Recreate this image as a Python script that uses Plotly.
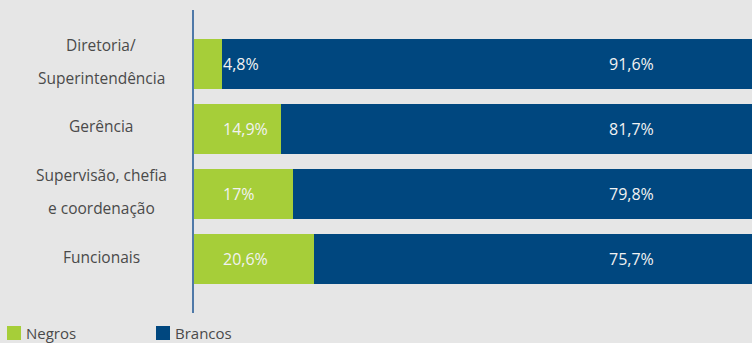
import plotly.graph_objects as go

# ---- data ----
category_lines = [
    ["Diretoria/", "Superintendência"],
    ["Gerência"],
    ["Supervisão, chefia", "e coordenação"],
    ["Funcionais"],
]
categories = [" ".join(l) for l in category_lines]
negros = [4.8, 14.9, 17.0, 20.6]
brancos = [91.6, 81.7, 79.8, 75.7]
series_names = ["Negros", "Brancos"]

GREEN = "#a6ce39"
BLUE = "#00477f"
BG = "#e6e6e6"
GRAY = "#4a4a4a"
FONT = "Open Sans"

L, T, B, W, H = 194, 10, 30, 752, 343
PW, PH = W - L, H - T - B


def fmt(v):
    return f"{v:g}".replace(".", ",") + "%"


def px_x(px):
    return (px - L) / PW


def px_y(py):
    return (H - B - py) / PH


fig = go.Figure()
colors = [GREEN, BLUE]
for name, vals, col in zip(series_names, [negros, brancos], colors):
    fig.add_trace(go.Bar(y=categories, x=vals, orientation="h", name=name,
                         marker=dict(color=col, line=dict(width=0)), hoverinfo="skip",
                         showlegend=False))

ann = []
for cat, lines, n, b in zip(categories, category_lines, negros, brancos):
    k = len(lines)
    for i, line in enumerate(lines):
        shift = 2.5 + (k - 1) * 16.5 - i * 33
        ann.append(dict(x=px_x(101), xref="paper", y=cat, yref="y", text=line,
                        showarrow=False, xanchor="center", yanchor="middle", yshift=shift,
                        font=dict(family=FONT, size=15.5, color=GRAY)))
    ann.append(dict(x=px_x(221), xref="paper", y=cat, yref="y", text=fmt(n), showarrow=False,
                    xanchor="left", yanchor="middle",
                    font=dict(family=FONT, size=16, color="#f2f2f2")))
    ann.append(dict(x=px_x(631), xref="paper", y=cat, yref="y", text=fmt(b), showarrow=False,
                    xanchor="center", yanchor="middle",
                    font=dict(family=FONT, size=16, color="#f2f2f2")))

# manual legend (swatch + label)
shapes = []
legend_x = [7, 156]
for name, col, lx in zip(series_names, colors, legend_x):
    shapes.append(dict(type="rect", xref="paper", yref="paper",
                       xsizemode="pixel", ysizemode="pixel",
                       xanchor=px_x(lx), yanchor=px_y(333),
                       x0=0, x1=14, y0=-7, y1=7,
                       fillcolor=col, line=dict(width=0)))
    ann.append(dict(x=px_x(lx + 17), xref="paper", y=px_y(333), yref="paper", text=name,
                    showarrow=False, xanchor="left", yanchor="middle",
                    font=dict(family=FONT, size=15, color=GRAY)))

fig.update_layout(
    width=W, height=H,
    margin=dict(l=L, r=0, t=T, b=B, autoexpand=False),
    paper_bgcolor=BG, plot_bgcolor=BG,
    barmode="stack", bargap=0.245,
    font=dict(family=FONT, size=16, color=GRAY),
    showlegend=False,
    annotations=ann,
    shapes=shapes,
    xaxis=dict(range=[0, 96], showgrid=False, zeroline=False, showticklabels=False,
               showline=False, fixedrange=True),
    yaxis=dict(categoryorder="array", categoryarray=categories, range=[3.83, -0.83],
               showgrid=False, zeroline=False, showticklabels=False, ticks="",
               showline=True, linecolor="#4f79a8", linewidth=2, fixedrange=True),
)

fig.write_html("out.html")
